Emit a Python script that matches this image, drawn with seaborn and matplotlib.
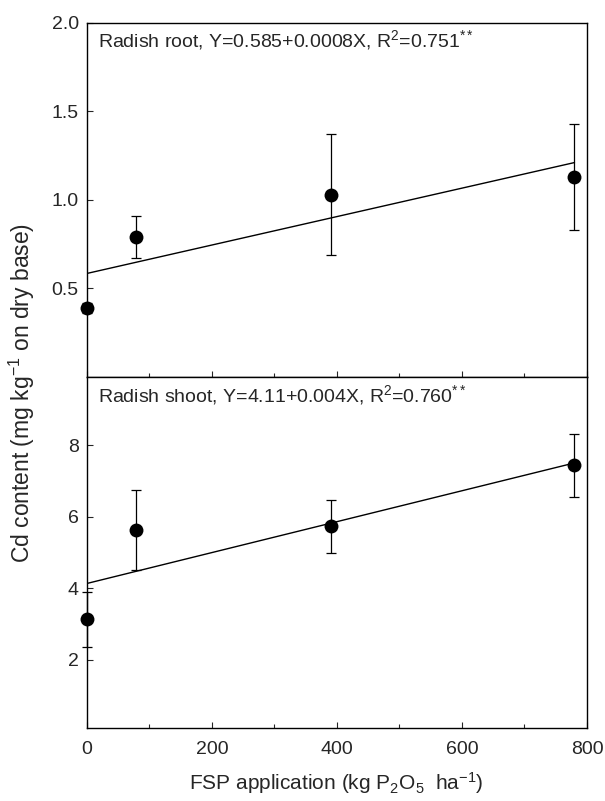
import matplotlib
matplotlib.use('Agg')
import matplotlib.pyplot as plt
from matplotlib.ticker import MultipleLocator
import seaborn as sns
import pandas as pd

# FSP dose (kg P2O5/ha)
fsp = [0, 78, 390, 780]

# Radish root Cd (mg/kg)
root_cd = [0.39, 0.79, 1.03, 1.13]
root_err = [0.03, 0.12, 0.34, 0.30]

# Radish shoot Cd (mg/kg)
shoot_cd = [3.14, 5.63, 5.73, 7.43]
shoot_err = [0.77, 1.12, 0.75, 0.87]

root_label = r'Radish root, Y=0.585+0.0008X, R$^2$=0.751$^{**}$'
shoot_label = r'Radish shoot, Y=4.11+0.004X, R$^2$=0.760$^{**}$'

sns.set_style('ticks')
plt.rcParams['font.family'] = ['Liberation Sans', 'DejaVu Sans']
plt.rcParams['mathtext.fontset'] = 'custom'
plt.rcParams['mathtext.rm'] = 'Liberation Sans'
plt.rcParams['mathtext.it'] = 'Liberation Sans'

fig = plt.figure(figsize=(6.05, 8.01), dpi=100)
ax1 = fig.add_axes([0.1438, 0.5293, 0.8264, 0.4424])
ax2 = fig.add_axes([0.1438, 0.0911, 0.8264, 0.4382])

panels = [
    (ax1, root_cd, root_err, root_label, (0, 2.0), [0.5, 1.0, 1.5, 2.0], '{:.1f}', 0.932),
    (ax2, shoot_cd, shoot_err, shoot_label, (0.1, 9.9), [2, 4, 6, 8], '{:d}', 0.929),
]

for ax, cd, err, label, ylim, yt, fmt, ty in panels:
    df = pd.DataFrame({'fsp': fsp, 'cd': cd})
    # regression line
    sns.regplot(data=df, x='fsp', y='cd', ax=ax, scatter=False, ci=None,
                truncate=True, color='black', line_kws={'linewidth': 1.0})
    ax.errorbar(fsp, cd, yerr=err, fmt='none', ecolor='black',
                elinewidth=0.9, capsize=3.3, capthick=0.9, clip_on=False)
    sns.scatterplot(data=df, x='fsp', y='cd', ax=ax, color='black', s=100,
                    edgecolor='black', linewidth=0, zorder=5, clip_on=False)
    ax.set_xlim(0, 800)
    ax.set_ylim(*ylim)
    ax.set_yticks(yt)
    ax.set_yticklabels([fmt.format(v) for v in yt], fontsize=14)
    ax.xaxis.set_major_locator(MultipleLocator(200))
    ax.xaxis.set_minor_locator(MultipleLocator(100))
    ax.tick_params(direction='in', which='both', length=4, width=0.8)
    ax.tick_params(which='minor', length=3)
    ax.tick_params(axis='y', pad=6)
    ax.set_xlabel('')
    ax.set_ylabel('')
    for sp in ax.spines.values():
        sp.set_visible(True)
        sp.set_linewidth(1.0)
        sp.set_color('black')
    ax.text(0.022, ty, label, transform=ax.transAxes, ha='left', va='baseline',
            fontsize=14)

ax1.tick_params(axis='x', labelbottom=False)
ax2.set_xticks([0, 200, 400, 600, 800])
ax2.set_xticklabels(['0', '200', '400', '600', '800'], fontsize=14)
ax2.tick_params(axis='x', pad=9)

fig.text(0.556, 0.0137, r'FSP application (kg P$_2$O$_5$  ha$^{-1}$)',
         ha='center', va='baseline', fontsize=15)
fig.text(0.036, 0.509, r'Cd content (mg kg$^{-1}$ on dry base)', rotation=90,
         ha='center', va='center', fontsize=16.5)

fig.savefig('out.png', dpi=100)
